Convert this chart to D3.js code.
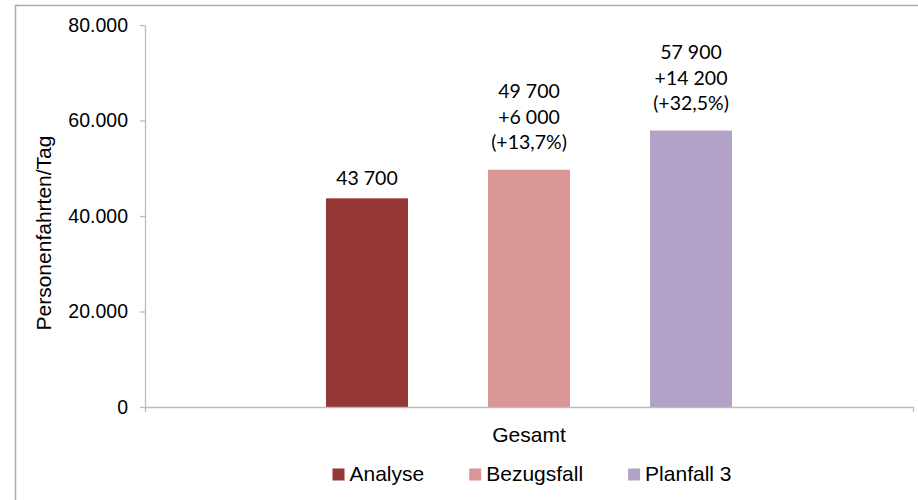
<!DOCTYPE html>
<html>
<head>
<meta charset="utf-8">
<script src="https://cdn.jsdelivr.net/npm/d3@7/dist/d3.min.js"></script>
<style>
  html, body { margin: 0; padding: 0; background: #fff; }
  svg { display: block; }
</style>
</head>
<body>
<svg id="chart" width="918" height="500"></svg>
<script>
// Daily passenger trips, total, per scenario
const categories = ["Gesamt"];
const series = ["Analyse", "Bezugsfall", "Planfall 3"];
const values = [43700, 49700, 57900];
const colors = ["#953735", "#D99694", "#B3A2C7"];
// Value labels above each bar (one entry per line)
const labelLines = [
  ["43 700"],
  ["49 700", "+6 000", "(+13,7%)"],
  ["57 900", "+14 200", "(+32,5%)"]
];
const yTicks = [0, 20000, 40000, 60000, 80000];
const yTitle = "Personenfahrten/Tag";

const svg = d3.select("#chart");
const axisFont = "Arial, 'Liberation Sans', sans-serif";
const labelFont = "Lato, 'Open Sans', sans-serif";

// Outer frame
svg.append("rect")
  .attr("x", 15.5).attr("y", 5.5)
  .attr("width", 1000).attr("height", 1000)
  .attr("fill", "none").attr("stroke", "#ababab").attr("stroke-width", 1.5);

const plot = { left: 145, right: 913, top: 25, bottom: 407 };

const y = d3.scaleLinear().domain([0, 80000]).range([plot.bottom, plot.top]);
const x0 = d3.scaleBand().domain(categories).range([plot.left, plot.right]);
const x1 = d3.scaleBand().domain(series)
  .range([0, x0.bandwidth()])
  .paddingInner(0.494).paddingOuter(1.117);

const fmt = v => v === 0 ? "0" : d3.format(",")(v).replace(/,/g, ".");

// Y axis
const yAxis = svg.append("g")
  .attr("transform", `translate(${plot.left},0)`)
  .call(d3.axisLeft(y).tickValues(yTicks).tickFormat(fmt)
    .tickSizeInner(5).tickSizeOuter(0).tickPadding(12));
yAxis.selectAll("path, line").attr("stroke", "#bbbbbb").attr("stroke-width", 1.3);
yAxis.selectAll("text")
  .attr("font-family", axisFont).attr("font-size", "19.5px").attr("fill", "#000");

// Bars
const group = svg.append("g").attr("transform", `translate(${x0("Gesamt")},0)`);
group.selectAll("rect.bar")
  .data(series.map((s, i) => ({ s, v: values[i], c: colors[i] })))
  .join("rect")
  .attr("class", "bar")
  .attr("x", d => x1(d.s))
  .attr("width", x1.bandwidth())
  .attr("y", d => y(d.v))
  .attr("height", d => y(0) - y(d.v))
  .attr("fill", d => d.c);

// X axis (drawn over bar bases)
const xAxis = svg.append("g")
  .attr("transform", `translate(0,${plot.bottom})`)
  .call(d3.axisBottom(x0).tickSizeInner(0).tickSizeOuter(5).tickPadding(20));
xAxis.selectAll("path, line").attr("stroke", "#bbbbbb").attr("stroke-width", 1.3);
xAxis.selectAll("text")
  .attr("font-family", axisFont).attr("font-size", "21px").attr("fill", "#000");

// Value labels
const lineH = 25.5;
series.forEach((s, i) => {
  const lines = labelLines[i];
  const cx = x0("Gesamt") + x1(s) + x1.bandwidth() / 2;
  const lastBase = y(values[i]) - (lines.length > 1 ? 20.5 : 13);
  const t = svg.append("text")
    .attr("text-anchor", "middle")
    .attr("font-family", labelFont).attr("font-size", "19.5px").attr("fill", "#000");
  lines.forEach((ln, k) => {
    t.append("tspan")
      .attr("x", cx)
      .attr("y", lastBase - (lines.length - 1 - k) * lineH)
      .text(ln);
  });
});

// Y axis title
svg.append("text")
  .attr("transform", "translate(51,233) rotate(-90)")
  .attr("text-anchor", "middle")
  .attr("font-family", axisFont).attr("font-size", "21px").attr("fill", "#000")
  .text(yTitle);

// Legend
const legend = svg.append("g");
let lx = 0;
series.forEach((s, i) => {
  const item = legend.append("g").attr("transform", `translate(${lx},0)`);
  item.append("rect").attr("x", 0).attr("y", -12.5).attr("width", 12).attr("height", 12)
    .attr("fill", colors[i]);
  const txt = item.append("text").attr("x", 17).attr("y", 0)
    .attr("font-family", axisFont).attr("font-size", "21px").attr("fill", "#000")
    .text(s);
  lx += 17 + txt.node().getComputedTextLength() + 45;
});
const legendW = lx - 45;
legend.attr("transform", `translate(${532 - legendW / 2},481)`);
</script>
</body>
</html>
